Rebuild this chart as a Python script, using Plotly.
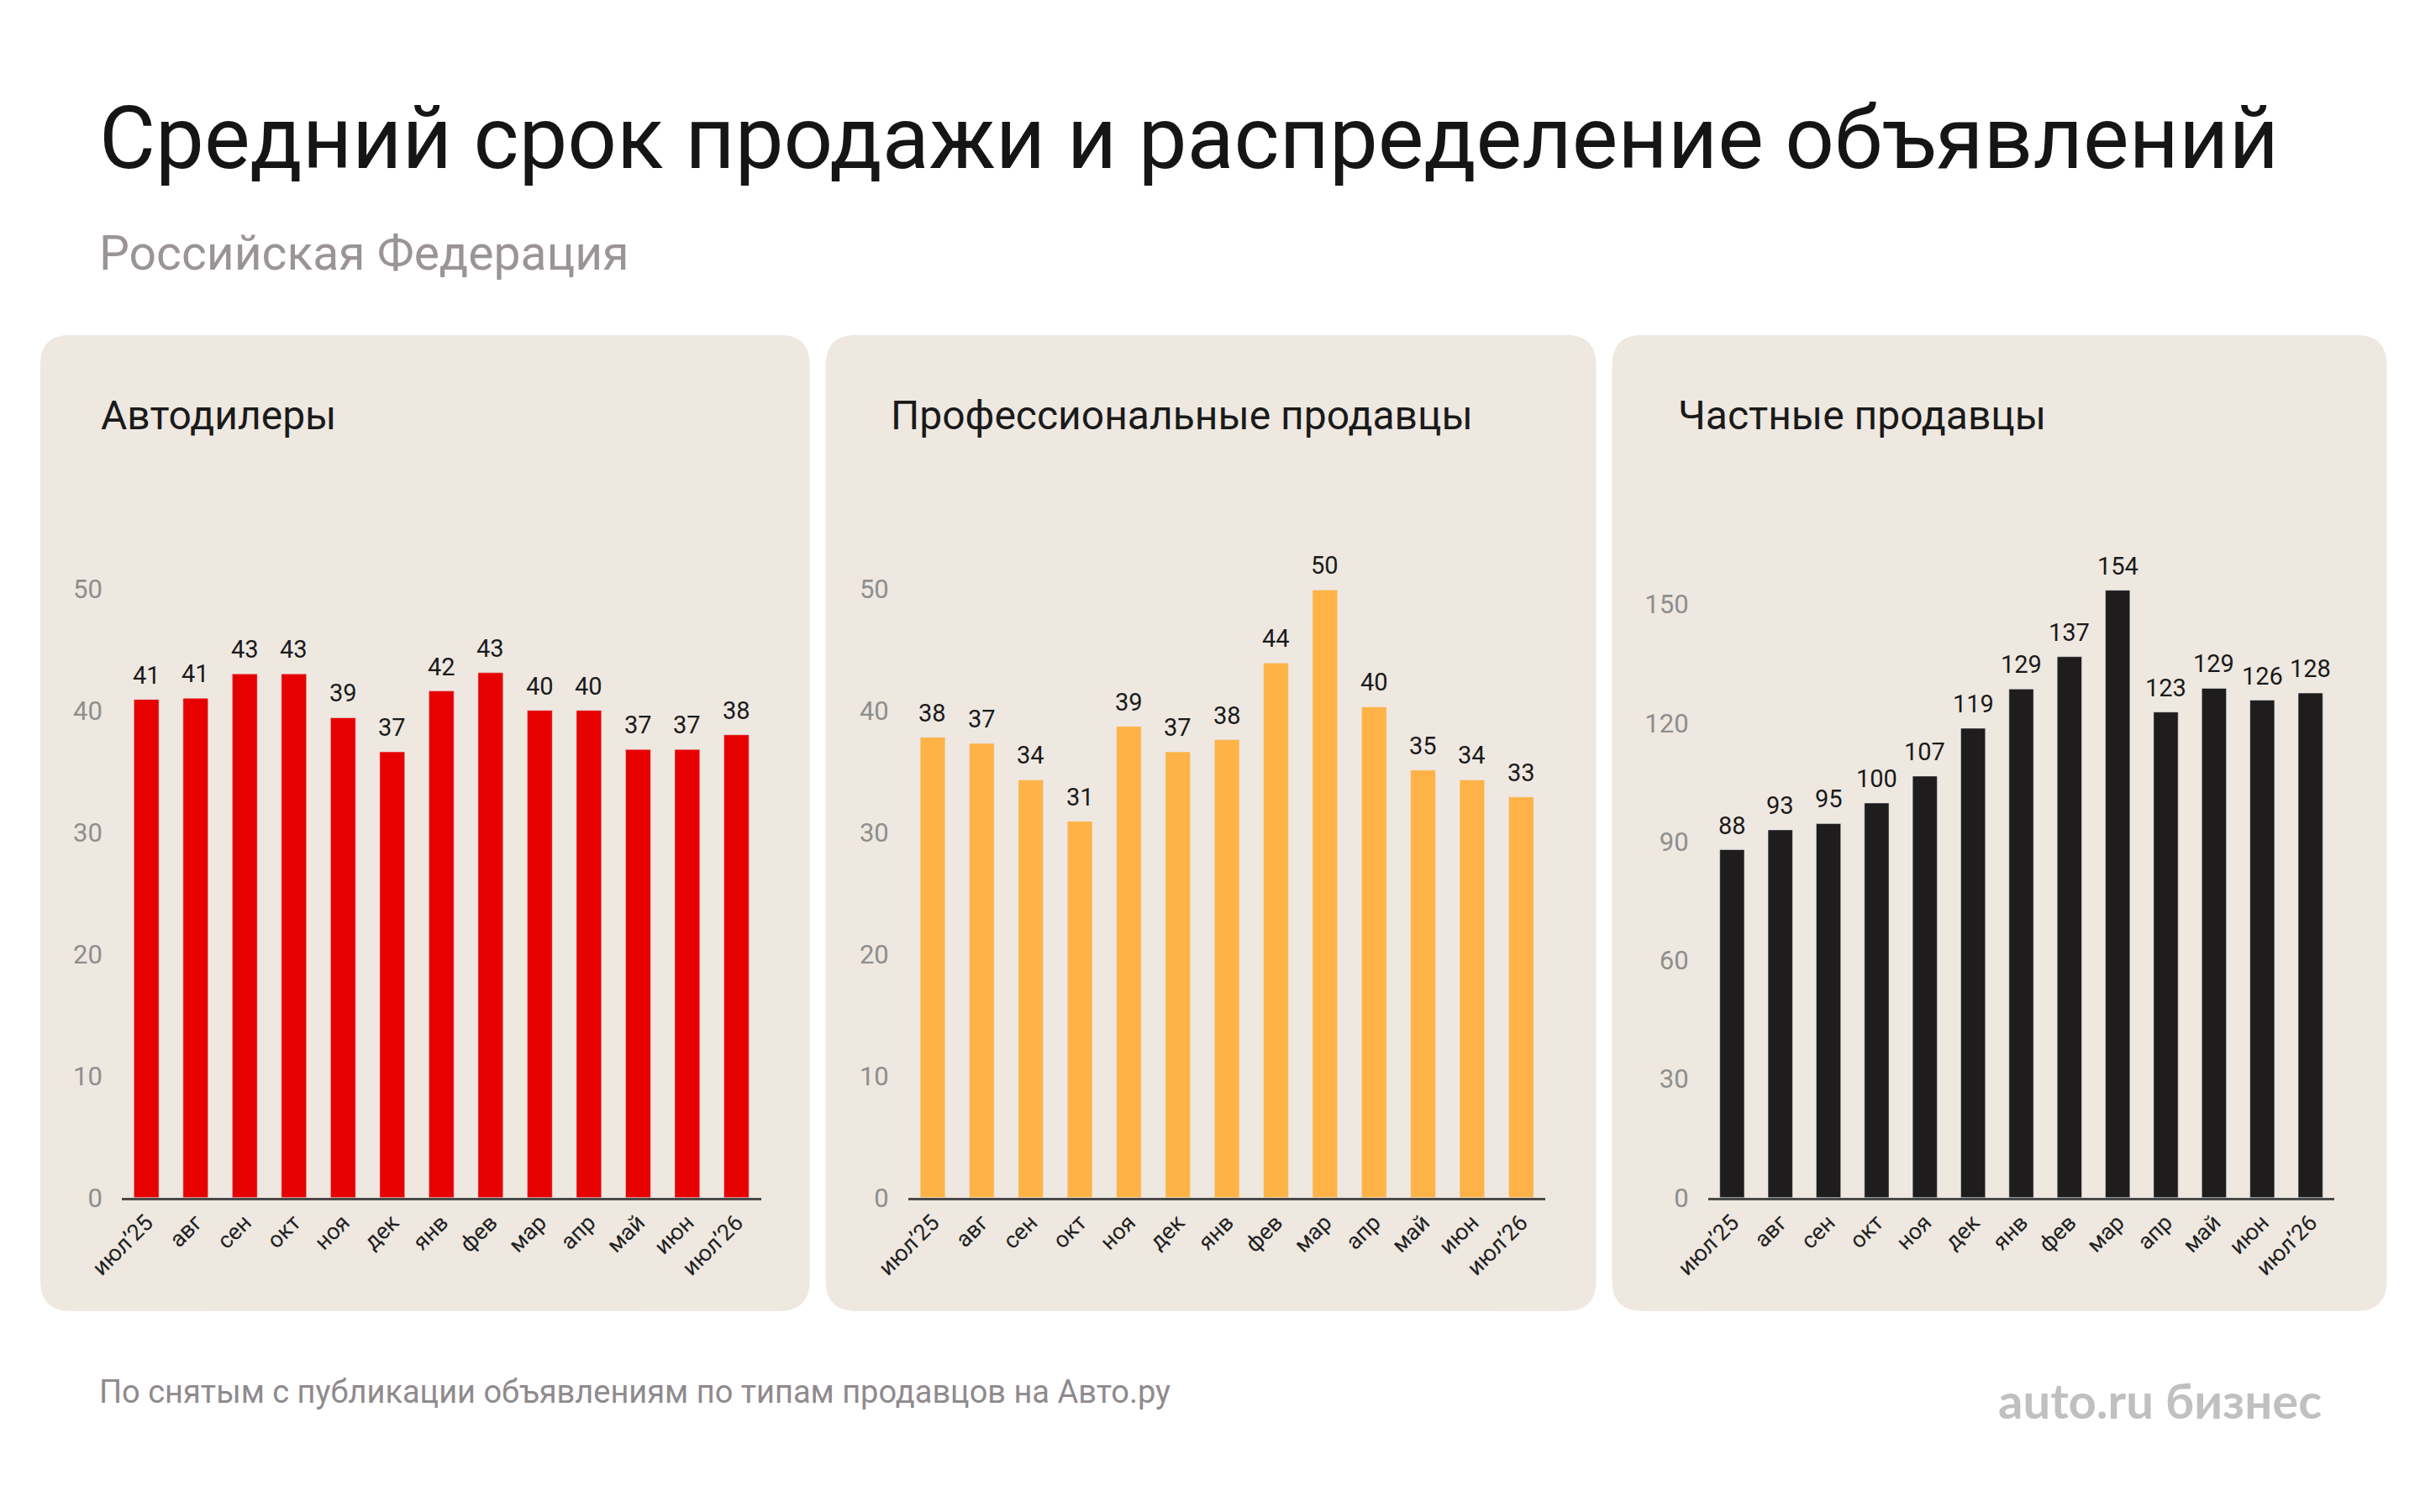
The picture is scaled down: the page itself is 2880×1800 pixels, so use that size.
import plotly.graph_objects as go

# data
months = ["июл’25", "авг", "сен", "окт", "ноя", "дек", "янв", "фев", "мар", "апр", "май", "июн", "июл’26"]
dealers = [40.9, 41.0, 43.0, 43.0, 39.4, 36.6, 41.6, 43.1, 40.0, 40.0, 36.8, 36.8, 38.0]
pros = [37.8, 37.3, 34.3, 30.9, 38.7, 36.6, 37.6, 43.9, 49.9, 40.3, 35.1, 34.3, 32.9]
private = [88.0, 93.0, 94.6, 99.8, 106.6, 118.7, 128.6, 136.8, 153.6, 122.8, 128.8, 125.8, 127.6]

panel_titles = ["Автодилеры", "Профессиональные продавцы", "Частные продавцы"]
title = "Средний срок продажи и распределение объявлений"
subtitle = "Российская Федерация"
footnote = "По снятым с публикации объявлениям по типам продавцов на Авто.ру"
logo = "auto.ru бизнес"

W, H = 2880, 1800
BG = "#EEE8E1"
FONT = "Roboto"
# the page shows the figure slightly shifted/scaled; positions below are in
# picture pixels and get mapped to paper coordinates here
SX, OX, SY, OY = 1.0157, -50.9, 1.021, -27.8
FS = 1.018


def px(x):
    return (SX * x + OX) / W


def py(y):
    return 1 - (SY * y + OY) / H


def fs(size):
    return round(size * FS)


def rounded(x0, y0, x1, y1, r=36):
    a, b, c, d = px(x0), py(y0), px(x1), py(y1)
    rx, ry = r * SX / W, r * SY / H
    return (f"M {a+rx},{b} L {c-rx},{b} Q {c},{b} {c},{b-ry} "
            f"L {c},{d+ry} Q {c},{d} {c-rx},{d} L {a+rx},{d} "
            f"Q {a},{d} {a},{d+ry} L {a},{b-ry} Q {a},{b} {a+rx},{b} Z")


panels = [
    dict(box=(48, 400, 963, 1562), plot=(145, 905), vals=dealers, color="#E60000",
         rng=[0, 50], ticks=[0, 10, 20, 30, 40, 50]),
    dict(box=(982, 400, 1898, 1562), plot=(1080, 1838), vals=pros, color="#FFB347",
         rng=[0, 50], ticks=[0, 10, 20, 30, 40, 50]),
    dict(box=(1917, 400, 2838, 1562), plot=(2031, 2776), vals=private, color="#1F1C1E",
         rng=[0, 154], ticks=[0, 30, 60, 90, 120, 150]),
]
title_x = [118, 1057, 1993]

fig = go.Figure()
shapes = []
annotations = []
plot_top, plot_bottom = 702, 1427

for i, p in enumerate(panels):
    n = "" if i == 0 else str(i + 1)
    fig.add_trace(go.Bar(x=months, y=p["vals"], marker_color=p["color"], width=0.51,
                         xaxis="x" + n, yaxis="y" + n, hoverinfo="x+y", showlegend=False))
    fig.layout["xaxis" + n] = dict(
        domain=[px(p["plot"][0]), px(p["plot"][1])], anchor="y" + n,
        showline=True, linecolor="#4A4A4A", linewidth=3, showgrid=False, zeroline=False,
        tickangle=-45, tickfont=dict(family=FONT, size=fs(27), color="#222222"),
        range=[-0.5, 12.5], fixedrange=True)
    fig.layout["yaxis" + n] = dict(
        domain=[py(plot_bottom), py(plot_top)], anchor="x" + n,
        range=p["rng"], tickvals=p["ticks"], showgrid=False, zeroline=False, showline=False,
        tickfont=dict(family=FONT, size=fs(30), color="#8E8E8E"), ticklabelstandoff=22,
        fixedrange=True)
    shapes.append(dict(type="path", path=rounded(*p["box"]), xref="paper", yref="paper",
                       fillcolor=BG, line=dict(width=0), layer="below"))
    annotations.append(dict(text=panel_titles[i], x=px(title_x[i]), y=py(496),
                            xref="paper", yref="paper", xanchor="left", yanchor="middle",
                            showarrow=False, font=dict(family=FONT, size=fs(47), color="#1A1A1A")))
    for m, v in zip(months, p["vals"]):
        annotations.append(dict(text=f"{v:.0f}", x=m, y=v, xref="x" + n, yref="y" + n,
                                xanchor="center", yanchor="bottom", yshift=10, showarrow=False,
                                font=dict(family=FONT, size=fs(28), color="#1A1A1A")))

annotations += [
    dict(text=title, x=px(116), y=py(166), xref="paper", yref="paper", xanchor="left",
         yanchor="middle", showarrow=False, font=dict(family=FONT, size=fs(101), color="#151515")),
    dict(text=subtitle, x=px(116), y=py(303), xref="paper", yref="paper", xanchor="left",
         yanchor="middle", showarrow=False, font=dict(family=FONT, size=fs(56), color="#9A9499")),
    dict(text=footnote, x=px(116), y=py(1658), xref="paper", yref="paper", xanchor="left",
         yanchor="middle", showarrow=False, font=dict(family=FONT, size=fs(37), color="#8F8A8E")),
    dict(text="<b>" + logo + "</b>", x=px(2763), y=py(1668), xref="paper", yref="paper",
         xanchor="right", yanchor="middle", showarrow=False,
         font=dict(family="Lato", size=fs(57), color="#C0C0C0")),
]

fig.update_layout(width=W, height=H, margin=dict(l=0, r=0, t=0, b=0),
                  paper_bgcolor="white", plot_bgcolor="rgba(0,0,0,0)",
                  shapes=shapes, annotations=annotations, bargap=0.49)
fig.write_html("out.html")
